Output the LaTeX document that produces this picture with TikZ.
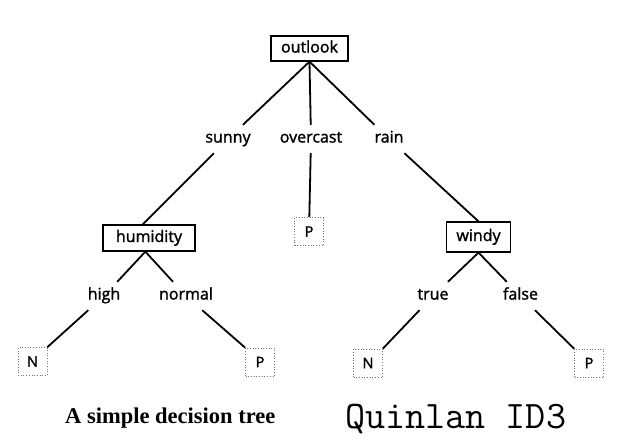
\documentclass[tikz,border=0pt]{standalone}
\usepackage{fontspec}
\setmainfont{Open Sans}[RawFeature={embolden=1.6}]
\newfontfamily\capfont{Liberation Serif}
\begin{document}
\begin{tikzpicture}[x=1pt,y=-1pt,
  attr/.style={draw=black, line width=1.2pt, inner sep=0pt, text height=11pt, text depth=3pt, font=\fontsize{16}{19}\selectfont},
  leaf/.style={draw=black!55, dotted, line width=0.7pt, minimum width=29pt, minimum height=28pt, inner sep=0pt, font=\fontsize{14.5}{17}\selectfont},
  val/.style={inner sep=0pt, minimum width=40pt, minimum height=28pt, text height=10pt, text depth=3pt, font=\fontsize{16}{19}\selectfont},
  edge/.style={line width=1.8pt}]
\useasboundingbox (0,0) rectangle (631,445);
\node[attr, minimum width=77pt, minimum height=25pt] (outlook) at (309.5,48.5) {outlook};
\node[attr, minimum width=92pt, minimum height=26pt] (humidity) at (149,238) {humidity};
\node[attr, minimum width=64pt, minimum height=30pt] (windy) at (478.5,237) {windy};
\node[val] (sunny) at (228,139) {sunny};
\node[val] (overcast) at (311,139) {overcast};
\node[val] (rain) at (389,139) {rain};
\node[val] (high) at (104,296) {high};
\node[val] (normal) at (186,296) {normal};
\node[val] (true) at (433,296) {true};
\node[val] (false) at (520.5,296) {false};
\node[leaf] (p1) at (309,231.5) {P};
\node[leaf] (n1) at (32.5,361.5) {N};
\node[leaf] (p2) at (260,362) {P};
\node[leaf] (n2) at (368,363) {N};
\node[leaf] (p3) at (589,363) {P};
\draw[edge] (outlook.south) -- (sunny);
\draw[edge] (outlook.south) -- (overcast);
\draw[edge] (outlook.south) -- (rain);
\draw[edge] (sunny) -- (humidity.115);
\draw[edge] (overcast) -- (p1);
\draw[edge] (rain) -- (windy.north);
\draw[edge] (humidity.255) -- (high);
\draw[edge] (humidity.255) -- (normal);
\draw[edge] (windy.south) -- (true);
\draw[edge] (windy.south) -- (false);
\draw[edge] (high) -- (n1.north east);
\draw[edge] (normal) -- (p2.north west);
\draw[edge] (true) -- (n2.north east);
\draw[edge] (false) -- (p3.north west);
\node[anchor=base west, inner sep=0pt, font=\capfont\bfseries\fontsize{22.5}{26}\selectfont] (cap) at (65,423) {A simple decision tree};
\node[anchor=base west, inner sep=0pt, font=\ttfamily\fontsize{39}{44}\selectfont] (quinlan) at (345,428) {Quinlan ID3};
\end{tikzpicture}
\end{document}
